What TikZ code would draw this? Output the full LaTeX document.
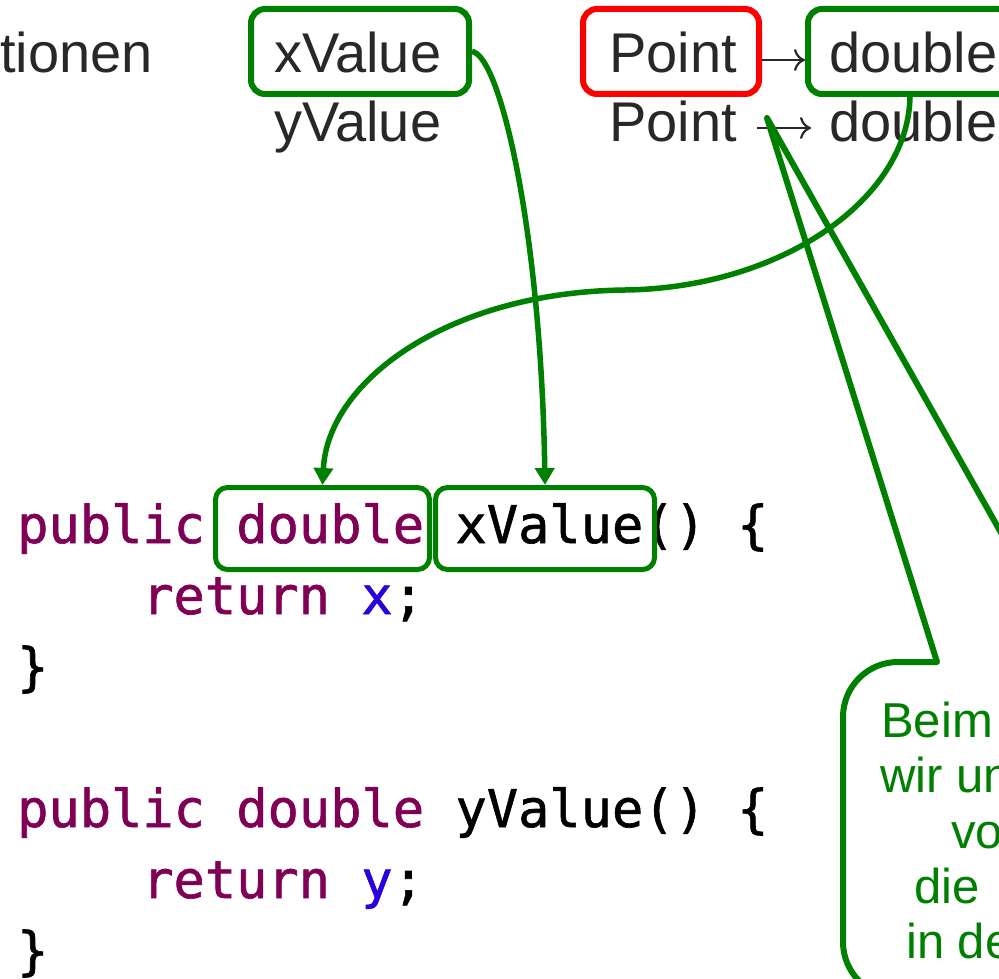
\documentclass[tikz,border=0pt]{standalone}
\usepackage{fontspec}
\setmainfont{Liberation Sans}
\newfontfamily\codefont[FakeBold=1.2]{DejaVu Sans Mono}
\usetikzlibrary{arrows.meta}
\definecolor{slidegreen}{RGB}{0,128,0}
\definecolor{slidered}{RGB}{255,0,0}
\definecolor{slidetext}{RGB}{40,40,40}
\definecolor{kwpurple}{RGB}{127,0,85}
\definecolor{fieldblue}{RGB}{42,0,220}
\newcommand{\kw}[1]{{\color{kwpurple}#1}}
\newcommand{\fld}[1]{{\color{fieldblue}#1}}

\begin{document}
\begin{tikzpicture}[x=1pt,y=-1pt,
  label/.style={anchor=base west, inner sep=0pt, text=slidetext, font=\fontsize{56}{60}\selectfont},
  code/.style={anchor=base west, inner sep=0pt, text=black, font=\codefont\fontsize{52}{60}\selectfont},
  note/.style={anchor=base west, inner sep=0pt, text=slidegreen, font=\fontsize{49}{55}\selectfont},
  markbox/.style={draw=slidegreen, line width=6pt, rounded corners=14pt, inner sep=0pt},
  redbox/.style={markbox, draw=slidered},
  codebox/.style={markbox, line width=5pt, rounded corners=12pt},
  link/.style={draw=slidegreen, line width=5.5pt, -{Triangle[length=17pt,width=19pt]}},
  maps/.style={draw=slidetext, line width=2.2pt, -{Computer Modern Rightarrow[length=11pt,width=22pt]}},
  bubble/.style={draw=slidegreen, line width=6pt, line join=round}
]
\useasboundingbox (0,0) rectangle (999,979);
\clip (0,0) rectangle (999,979);

% header row: names and signatures
\node[label] (tionen) at (0,73) {tionen};
\node[label] (xv) at (274,73) {xValue};
\node[label] (yv) at (274,142) {yValue};
\node[label] (pt1) at (609,73) {Point};
\node[label] (pt2) at (609,142) {Point};
\node[label] (db1) at (829,73) {double};
\node[label] (db2) at (829,142) {double};

\node[markbox, minimum width=218pt, minimum height=85pt] (xvbox) at (360,51.5) {};
\node[redbox, minimum width=176pt, minimum height=85pt] (ptbox) at (671,51.5) {};
\node[markbox, minimum width=204pt, minimum height=85pt] (dbbox) at (910,51.5) {};

\draw[maps] ([yshift=-8.5pt]ptbox.east) -- ([yshift=-8.5pt]dbbox.west);
\draw[maps] ([xshift=20pt,yshift=-6pt]pt2.east) -- ([xshift=-18pt,yshift=-6pt]db2.west);

% Java source
\node[code] (c1) at (17,543) {\kw{public double} xValue() \{};
\node[code] (c2) at (142,614) {\kw{return} \fld{x};};
\node[code] (c3) at (17,685) {\}};
\node[code] (c4) at (17,827) {\kw{public double} yValue() \{};
\node[code] (c5) at (142,898) {\kw{return} \fld{y};};
\node[code] (c6) at (17,969) {\}};

\node[codebox, minimum width=214pt, minimum height=82pt] (cdbl) at (322.5,528.5) {};
\node[codebox, minimum width=219pt, minimum height=82pt] (cxv) at (545,528.5) {};

% links from the signature to the code
\draw[link] (xvbox.east) .. controls (500,55) and (541,230) .. (cxv.north);
\draw[link] (dbbox.south) .. controls (908,200) and (780,288) .. (625,290)
  .. controls (450,292) and (328,380) .. (cdbl.north);

% speech bubble pointing at the mapping arrow
\coordinate (tip) at (767,118);
\draw[bubble] (1100,997) -- (898,997) .. controls (867.6,997) and (843,972.4) .. (843,942)
  -- (843,717) .. controls (843,686.6) and (867.6,662) .. (898,662)
  -- (937,662) -- (tip) -- (1074,662) -- (1100,662);

\node[note] (n1) at (881,737) {Beim};
\node[note] (n2) at (880,792) {wir un};
\node[note] (n3) at (951,848) {vo};
\node[note] (n4) at (914,903) {die};
\node[note] (n5) at (906,958) {in de};
\end{tikzpicture}
\end{document}
